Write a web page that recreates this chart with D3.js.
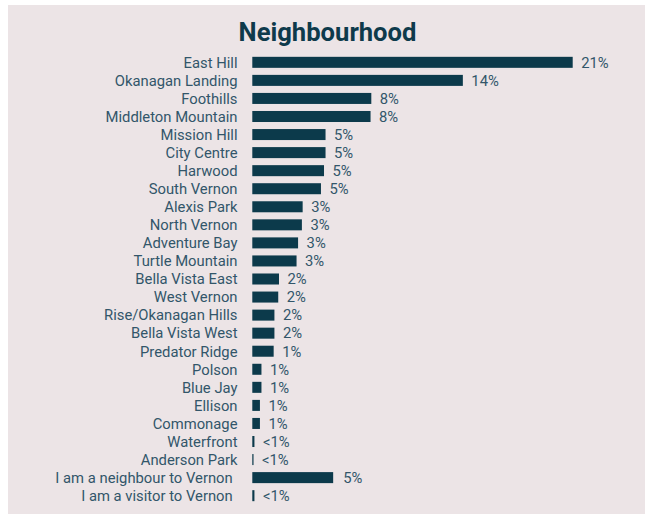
<!DOCTYPE html>
<html>
<head>
<meta charset="utf-8">
<script src="https://cdn.jsdelivr.net/npm/d3@7"></script>
<style>
  html, body { margin: 0; padding: 0; background: #ffffff; }
  svg { display: block; }
</style>
</head>
<body>
<svg id="chart" width="649" height="514"></svg>
<script>
const title = "Neighbourhood";
const categories = [
  "East Hill", "Okanagan Landing", "Foothills", "Middleton Mountain",
  "Mission Hill", "City Centre", "Harwood", "South Vernon",
  "Alexis Park", "North Vernon", "Adventure Bay", "Turtle Mountain",
  "Bella Vista East", "West Vernon", "Rise/Okanagan Hills", "Bella Vista West",
  "Predator Ridge", "Polson", "Blue Jay", "Ellison", "Commonage",
  "Waterfront", "Anderson Park", "I am a neighbour to Vernon", "I am a visitor to Vernon"
];
const values = [
  21.0, 13.8, 7.8, 7.75,
  4.8, 4.8, 4.7, 4.5,
  3.3, 3.25, 3.0, 2.9,
  1.75, 1.7, 1.45, 1.45,
  1.4, 0.6, 0.6, 0.5, 0.5,
  0.14, 0.08, 5.3, 0.14
];
const valueLabels = [
  "21%", "14%", "8%", "8%",
  "5%", "5%", "5%", "5%",
  "3%", "3%", "3%", "3%",
  "2%", "2%", "2%", "2%",
  "1%", "1%", "1%", "1%", "1%",
  "<1%", "<1%", "5%", "<1%"
];

const W = 649, H = 514;
const svg = d3.select("#chart");
const barColor = "#0c3a4b";
const textColor = "#32566a";
const titleColor = "#0e3a4b";

// panel background
svg.append("rect").attr("x", 8).attr("y", 5).attr("width", 637).attr("height", H - 5)
  .attr("fill", "#ece4e6");

const x0 = 252.3;
const x = d3.scaleLinear().domain([0, 21]).range([x0, 572.7]);
const y = d3.scaleBand().domain(categories).range([53.3, 504.7]).paddingInner(0.39).paddingOuter(0.195);

svg.append("text")
  .attr("x", 327.5).attr("y", 41)
  .attr("text-anchor", "middle")
  .attr("font-family", "Roboto, sans-serif")
  .attr("font-weight", 700)
  .attr("font-size", 25.6)
  .attr("fill", titleColor)
  .text(title);

const fs = 14.8;
const rows = svg.append("g").selectAll("g").data(categories).join("g");

rows.append("rect")
  .attr("x", x(0))
  .attr("y", d => y(d))
  .attr("width", (d, i) => x(values[i]) - x(0))
  .attr("height", y.bandwidth())
  .attr("fill", barColor);

rows.append("text")
  .attr("x", (d, i) => i >= 23 ? 232.7 : 237.5)
  .attr("y", d => y(d) + y.bandwidth() / 2)
  .attr("dy", "0.36em")
  .attr("text-anchor", "end")
  .attr("font-family", "Roboto, sans-serif")
  .attr("font-size", fs)
  .attr("fill", textColor)
  .text(d => d);

rows.append("text")
  .attr("x", (d, i) => x(values[i]) + (i === 23 ? 10 : 8.5))
  .attr("y", d => y(d) + y.bandwidth() / 2)
  .attr("dy", "0.36em")
  .attr("font-family", "Roboto, sans-serif")
  .attr("font-size", fs)
  .attr("fill", textColor)
  .text((d, i) => valueLabels[i]);
</script>
</body>
</html>
